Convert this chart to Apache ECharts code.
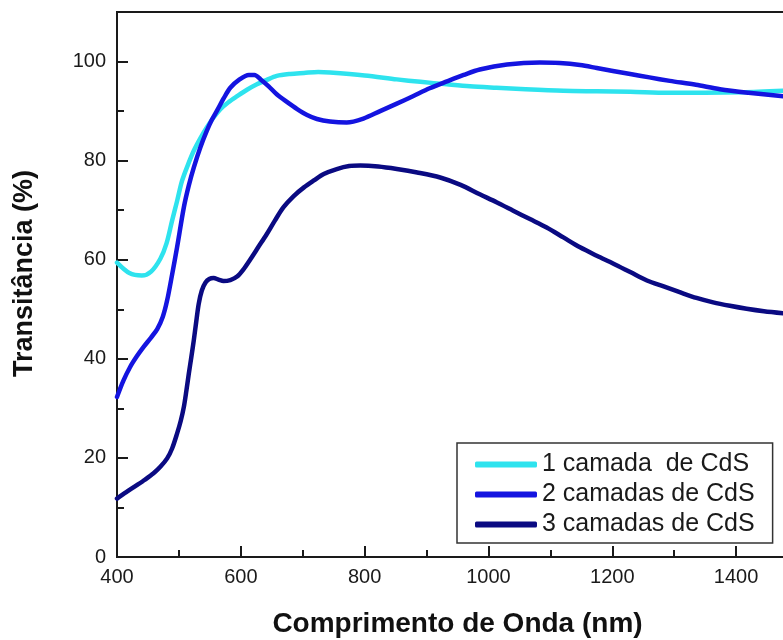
<!DOCTYPE html>
<html>
<head>
<meta charset="utf-8">
<script src="https://cdn.jsdelivr.net/npm/echarts@6/dist/echarts.min.js"></script>
<style>
  html, body { margin: 0; padding: 0; background: #fff; }
  #chart { width: 783px; height: 640px; }
</style>
</head>
<body>
<div id="chart"></div>
<script>
// Transmittance spectra of CdS films (wavelength in nm, transmittance in %)
const seriesNames = ['1 camada  de CdS', '2 camadas de CdS', '3 camadas de CdS'];

const wl1 = [400, 420, 440, 455, 470, 480, 489, 497, 505, 515, 524, 535, 545, 556, 567, 580, 594, 610, 626, 642, 658, 680, 702, 725, 744, 800, 852, 890, 933, 970, 1013, 1060, 1121, 1175, 1229, 1290, 1350, 1410, 1476];
const t1  = [59.4, 57.3, 56.8, 57.6, 60.2, 63.3, 67.9, 71.8, 75.9, 79.3, 82.0, 84.6, 86.7, 88.7, 90.4, 91.8, 93.0, 94.3, 95.4, 96.3, 97.1, 97.5, 97.7, 97.9, 97.8, 97.2, 96.4, 95.9, 95.4, 95.0, 94.7, 94.4, 94.1, 94.0, 93.9, 93.7, 93.7, 93.8, 94.1];

const wl2 = [400, 410, 421, 432, 443, 455, 465, 474, 481, 489, 497, 508, 516, 524, 535, 545, 553, 562, 572, 583, 598, 613, 622, 632, 645, 658, 675, 691, 707, 723, 744, 771, 798, 825, 852, 878, 905, 933, 960, 986, 1030, 1083, 1115, 1148, 1175, 1201, 1229, 1260, 1293, 1335, 1374, 1420, 1476];
const t2  = [32.3, 35.5, 38.3, 40.5, 42.4, 44.3, 46.0, 48.5, 51.8, 57.0, 62.5, 70.6, 75.0, 78.6, 82.8, 86.0, 88.2, 90.2, 92.5, 94.7, 96.4, 97.3, 97.3, 96.4, 95.0, 93.4, 91.8, 90.4, 89.2, 88.4, 87.9, 87.7, 88.5, 90.0, 91.5, 93.0, 94.6, 96.0, 97.3, 98.4, 99.4, 99.8, 99.7, 99.3, 98.7, 98.1, 97.5, 96.8, 96.1, 95.3, 94.4, 93.7, 93.0];

const wl3 = [400, 415, 432, 445, 459, 470, 481, 489, 497, 503, 508, 512, 516, 520, 524, 528, 532, 537, 543, 549, 556, 564, 572, 583, 594, 604, 615, 628, 642, 655, 669, 685, 702, 718, 734, 755, 775, 793, 822, 852, 885, 922, 955, 986, 1013, 1040, 1067, 1094, 1121, 1148, 1175, 1202, 1229, 1256, 1283, 1310, 1336, 1363, 1390, 1417, 1445, 1476];
const t3  = [11.8, 13.1, 14.5, 15.6, 16.9, 18.2, 19.9, 21.9, 24.9, 27.5, 30.3, 33.5, 37.0, 40.3, 43.7, 47.5, 51.1, 53.8, 55.4, 56.1, 56.3, 56.0, 55.7, 55.9, 56.6, 58.0, 60.0, 62.5, 65.2, 67.9, 70.6, 72.8, 74.6, 76.0, 77.3, 78.3, 78.9, 79.0, 78.8, 78.3, 77.6, 76.6, 75.1, 73.2, 71.6, 69.9, 68.2, 66.5, 64.5, 62.5, 60.8, 59.2, 57.5, 55.8, 54.6, 53.4, 52.3, 51.4, 50.7, 50.1, 49.6, 49.2];

const xTicks = { min: 400, max: 1500, step: 200 };
const yTicks = { min: 0, max: 110, step: 20 };

const colors = ['#2ee3ee', '#1414e0', '#0a0a82'];
const fontFamily = '"Liberation Sans", Arial, sans-serif';

function pairs(xs, ys) {
  return xs.map((x, i) => [x, ys[i]]);
}

const chart = echarts.init(document.getElementById('chart'), null, { renderer: 'canvas' });

const axisCommon = {
  axisLine: { show: true, onZero: false, lineStyle: { color: '#1a1a1a', width: 2 } },
  axisTick: { show: true, inside: true, length: 11, lineStyle: { color: '#1a1a1a', width: 2 } },
  minorTick: { show: true, splitNumber: 2, length: 7, lineStyle: { color: '#1a1a1a', width: 2 } },
  splitLine: { show: false },
  axisLabel: {
    color: '#1a1a1a', fontSize: 20, fontFamily: fontFamily, showMaxLabel: false,
    formatter: (v) => String(v)
  },
  nameTextStyle: { color: '#111', fontSize: 28, fontWeight: 'bold', fontFamily: fontFamily }
};

chart.setOption({
  backgroundColor: '#ffffff',
  animation: false,
  color: colors,
  grid: {
    left: 117, top: 12, right: -15, bottom: 83,
    outerBoundsMode: 'none',
    containLabel: false,
    show: true, borderColor: '#1a1a1a', borderWidth: 2, backgroundColor: 'transparent'
  },
  xAxis: Object.assign({}, axisCommon, {
    type: 'value',
    min: xTicks.min, max: xTicks.max, interval: xTicks.step,
    name: 'Comprimento de Onda (nm)',
    nameLocation: 'middle',
    nameGap: 53,
    axisLabel: Object.assign({}, axisCommon.axisLabel, { margin: 10 })
  }),
  yAxis: Object.assign({}, axisCommon, {
    type: 'value',
    min: yTicks.min, max: yTicks.max, interval: yTicks.step,
    name: 'Transitância (%)',
    nameLocation: 'middle',
    nameGap: 79,
    // extra leading padding lifts the rotated title slightly above the axis centre
    nameTextStyle: Object.assign({}, axisCommon.nameTextStyle, { fontSize: 27, padding: [0, 0, 0, 22] }),
    axisLabel: Object.assign({}, axisCommon.axisLabel, { margin: 11 })
  }),
  legend: {
    orient: 'vertical',
    left: 457, top: 443,
    padding: [9, 18, 6, 18],
    itemGap: 5,
    itemWidth: 62, itemHeight: 6,
    icon: 'roundRect',
    borderColor: '#333', borderWidth: 1.5,
    backgroundColor: '#fff',
    textStyle: { color: '#1a1a1a', fontSize: 25, lineHeight: 24, fontFamily: fontFamily },
    data: seriesNames
  },
  series: [
    { name: seriesNames[0], data: pairs(wl1, t1) },
    { name: seriesNames[1], data: pairs(wl2, t2) },
    { name: seriesNames[2], data: pairs(wl3, t3) }
  ].map((s, i) => ({
    type: 'line',
    name: s.name,
    data: s.data,
    smooth: 0.3,
    showSymbol: false,
    symbol: 'none',
    lineStyle: { color: colors[i], width: 4.5, cap: 'round', join: 'round' },
    itemStyle: { color: colors[i] },
    z: 2 + i
  }))
});
</script>
</body>
</html>
